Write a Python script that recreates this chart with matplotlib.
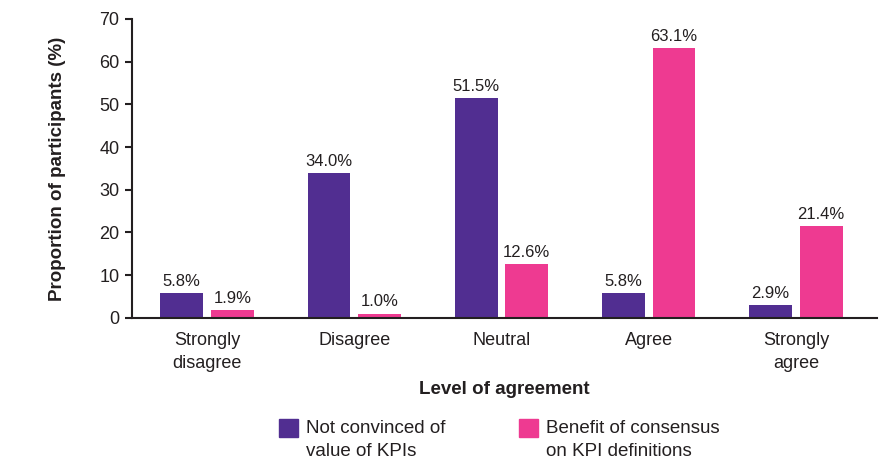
import matplotlib.pyplot as plt
from matplotlib.patches import Rectangle
import numpy as np

plt.rcParams['font.family'] = ['Liberation Sans', 'DejaVu Sans']

categories = ["Strongly\ndisagree", "Disagree", "Neutral", "Agree", "Strongly\nagree"]
not_convinced = [5.8, 34.0, 51.5, 5.8, 2.9]
benefit = [1.9, 1.0, 12.6, 63.1, 21.4]
series_names = ["Not convinced of\nvalue of KPIs", "Benefit of consensus\non KPI definitions"]

purple = "#512E91"
pink = "#EE3A91"
txt = "#231F20"

fig = plt.figure(figsize=(8.92, 4.62), dpi=100)
ax = fig.add_axes([0.148, 0.312, 0.835, 0.647])

x = np.arange(len(categories))
w = 0.29
off = 0.172
b1 = ax.bar(x - off, not_convinced, w, color=purple, label=series_names[0])
b2 = ax.bar(x + off, benefit, w, color=pink, label=series_names[1])

for bars, vals in ((b1, not_convinced), (b2, benefit)):
    for r, v in zip(bars, vals):
        ax.annotate(f"{v:.1f}%", (r.get_x() + r.get_width() / 2, v),
                    xytext=(0, 3), textcoords="offset points",
                    ha="center", va="bottom", fontsize=12, color=txt)

ax.set_xlim(-0.51, 4.55)
ax.set_ylim(0, 70)
ax.set_yticks(range(0, 71, 10))
ax.set_xticks(x)
ax.set_xticklabels(categories, fontsize=13, color=txt, linespacing=1.5)
ax.tick_params(axis="x", length=0, pad=10)
ax.tick_params(axis="y", labelsize=13, colors=txt, length=5, width=1.5, pad=4)
for s in ("top", "right"):
    ax.spines[s].set_visible(False)
for s in ("left", "bottom"):
    ax.spines[s].set_linewidth(1.5)
    ax.spines[s].set_color(txt)

ax.set_ylabel("Proportion of participants (%)", fontsize=13.5, fontweight="bold",
              color=txt, labelpad=24)
ax.set_xlabel("Level of agreement", fontsize=13.5, fontweight="bold", color=txt,
              labelpad=6)

# legend drawn by hand so the swatch sits on the first text line
W, H = 892, 462
for bars, name, sx in ((b1, series_names[0], 279), (b2, series_names[1], 519)):
    fig.add_artist(Rectangle((sx / W, 1 - 437 / H), 19 / W, 18 / H,
                             transform=fig.transFigure,
                             color=bars.patches[0].get_facecolor()))
    fig.text((sx + 27) / W, 1 - 420 / H, name, fontsize=13.5, color=txt,
             va="top", ha="left", linespacing=1.45)

plt.savefig("out.png", dpi=100)
